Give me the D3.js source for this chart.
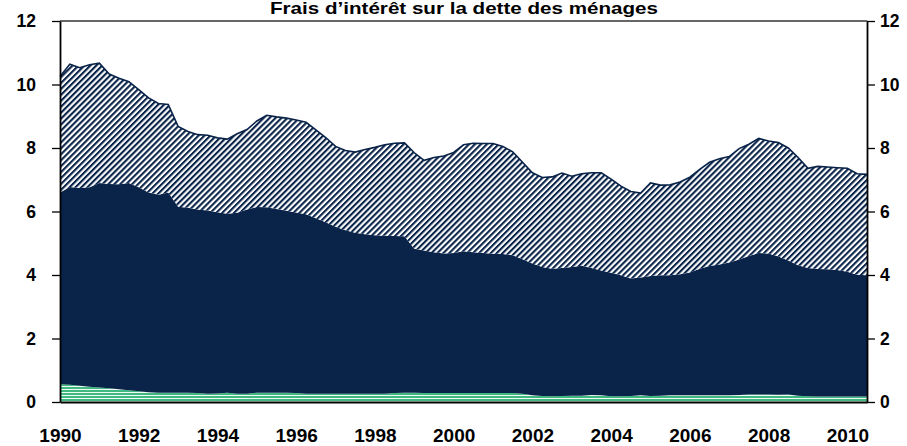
<!DOCTYPE html>
<html><head><meta charset="utf-8">
<script src="https://cdn.jsdelivr.net/npm/d3@7/dist/d3.min.js"></script>
<style>body{margin:0;background:#fff;overflow:hidden}</style>
</head><body>
<svg id="chart" width="907" height="446"></svg>
<script>
const title = "Frais d’intérêt sur la dette des ménages";

const categories = [
"1990T1","1990T2","1990T3","1990T4","1991T1","1991T2","1991T3","1991T4",
"1992T1","1992T2","1992T3","1992T4","1993T1","1993T2","1993T3","1993T4",
"1994T1","1994T2","1994T3","1994T4","1995T1","1995T2","1995T3","1995T4",
"1996T1","1996T2","1996T3","1996T4","1997T1","1997T2","1997T3","1997T4",
"1998T1","1998T2","1998T3","1998T4","1999T1","1999T2","1999T3","1999T4",
"2000T1","2000T2","2000T3","2000T4","2001T1","2001T2","2001T3","2001T4",
"2002T1","2002T2","2002T3","2002T4","2003T1","2003T2","2003T3","2003T4",
"2004T1","2004T2","2004T3","2004T4","2005T1","2005T2","2005T3","2005T4",
"2006T1","2006T2","2006T3","2006T4","2007T1","2007T2","2007T3","2007T4",
"2008T1","2008T2","2008T3","2008T4","2009T1","2009T2","2009T3","2009T4",
"2010T1","2010T2","2010T3"
];

// bottom layer (green, horizontal stripes)
const serieBas = [
0.56,0.54,0.51,0.48, 0.46,0.43,0.40,0.37, 0.34,0.31,0.29,0.29, 0.29,0.29,0.28,0.26,
0.27,0.29,0.26,0.26, 0.29,0.29,0.29,0.29, 0.28,0.26,0.26,0.26, 0.26,0.26,0.26,0.26,
0.26,0.26,0.28,0.29, 0.29,0.28,0.28,0.28, 0.28,0.28,0.28,0.28, 0.28,0.28,0.28,0.26,
0.21,0.19,0.18,0.19, 0.20,0.20,0.22,0.21, 0.18,0.18,0.19,0.21, 0.19,0.20,0.21,0.21,
0.21,0.21,0.21,0.21, 0.21,0.22,0.24,0.24, 0.24,0.23,0.24,0.20, 0.18,0.17,0.17,0.17,
0.17,0.17,0.17
];

// middle layer (solid navy)
const serieMilieu = [
6.04,6.23,6.23,6.28, 6.44,6.44,6.46,6.53, 6.42,6.29,6.24,6.31, 5.86,5.83,5.78,5.77,
5.71,5.64,5.70,5.80, 5.85,5.84,5.79,5.73, 5.69,5.65,5.53,5.40, 5.26,5.15,5.07,5.02,
4.99,4.98,4.95,4.93, 4.54,4.49,4.44,4.40, 4.41,4.47,4.44,4.41, 4.39,4.38,4.34,4.24,
4.15,4.06,4.02,4.03, 4.05,4.09,4.00,3.93, 3.89,3.81,3.70,3.71, 3.78,3.79,3.78,3.81,
3.87,3.99,4.07,4.12, 4.18,4.27,4.36,4.45, 4.44,4.35,4.22,4.11, 4.04,4.02,4.01,3.99,
3.93,3.84,3.82
];

// top layer (hatched)
const serieHaut = [
3.65,3.87,3.79,3.86, 3.77,3.46,3.34,3.19, 3.08,2.98,2.87,2.77, 2.53,2.40,2.36,2.37,
2.34,2.35,2.49,2.52, 2.71,2.90,2.90,2.92, 2.91,2.90,2.78,2.67, 2.53,2.51,2.54,2.67,
2.77,2.86,2.92,2.94, 3.02,2.84,2.98,3.07, 3.17,3.35,3.43,3.45, 3.47,3.39,3.26,3.05,
2.86,2.82,2.89,2.99, 2.86,2.90,3.00,3.08, 2.95,2.81,2.74,2.66, 2.93,2.84,2.85,2.91,
3.00,3.13,3.27,3.33, 3.34,3.49,3.52,3.61, 3.54,3.59,3.54,3.39, 3.14,3.23,3.22,3.22,
3.26,3.18,3.18
];

const xTickLabels = ["1990","1992","1994","1996","1998","2000","2002","2004","2006","2008","2010"];
const yTickValues = [0,2,4,6,8,10,12];

const NAVY = "#0a2349";
const mLeft = 60, mRight = 867, mTop = 21, mBottom = 402;

const svg = d3.select("#chart");
const defs = svg.append("defs");

const hatch = defs.append("pattern").attr("id","hatch")
  .attr("patternUnits","userSpaceOnUse").attr("width",4.2).attr("height",4.2)
  .attr("patternTransform","rotate(45)");
hatch.append("rect").attr("width",4.2).attr("height",4.2).attr("fill","#fff");
hatch.append("rect").attr("width",2.1).attr("height",4.2).attr("fill",NAVY);

const green = defs.append("pattern").attr("id","greenstripes")
  .attr("patternUnits","userSpaceOnUse").attr("width",8).attr("height",3);
green.append("rect").attr("width",8).attr("height",3).attr("fill","#3fb97f");
green.append("rect").attr("y",2).attr("width",8).attr("height",1).attr("fill","#eefaf3");

const rows = categories.map((c,i)=>({cat:c, bas:serieBas[i], milieu:serieMilieu[i], haut:serieHaut[i]}));
const keys = ["bas","milieu","haut"];
const stacked = d3.stack().keys(keys)(rows);

const x = d3.scaleLinear().domain([0, categories.length-1]).range([mLeft, mRight]);
const y = d3.scaleLinear().domain([0,12]).range([mBottom, mTop]);

const area = d3.area().x((d,i)=>x(i)).y0(d=>y(d[0])).y1(d=>y(d[1]));
const fills = {bas:"url(#greenstripes)", milieu:NAVY, haut:"url(#hatch)"};

svg.append("g").selectAll("path").data(stacked).join("path")
  .attr("d", area).attr("fill", d=>fills[d.key]);

// outline on top of hatched layer
svg.append("path").datum(stacked[2])
  .attr("d", d3.line().x((d,i)=>x(i)).y(d=>y(d[1])))
  .attr("fill","none").attr("stroke",NAVY).attr("stroke-width",1.6);

// top border
svg.append("line").attr("x1",mLeft).attr("x2",mRight).attr("y1",y(12)).attr("y2",y(12))
  .attr("stroke","#333").attr("stroke-width",1.5);

const fontFam = "Liberation Sans, Arial, sans-serif";

const yl = svg.append("g").attr("transform",`translate(${mLeft},0)`)
  .call(d3.axisLeft(y).tickValues(yTickValues).tickSize(8).tickSizeOuter(0).tickPadding(16).tickFormat(d3.format("d")));
const yr = svg.append("g").attr("transform",`translate(${mRight},0)`)
  .call(d3.axisRight(y).tickValues(yTickValues).tickSize(8).tickSizeOuter(0).tickPadding(5).tickFormat(d3.format("d")));
[yl,yr].forEach(g=>{
  g.select(".domain").attr("stroke","#000").attr("stroke-width",1.8);
  g.selectAll(".tick line").attr("stroke","#000").attr("stroke-width",1.3);
  g.selectAll("text").attr("font-family",fontFam).attr("font-weight","bold")
    .attr("font-size",17.5).attr("fill","#000");
});

const xa = svg.append("g").attr("transform",`translate(0,${mBottom})`)
  .call(d3.axisBottom(x).tickValues(xTickLabels.map(l=>categories.indexOf(l+"T1")))
    .tickSize(0).tickSizeOuter(0).tickPadding(27)
    .tickFormat(i=>categories[i].slice(0,4)));
xa.select(".domain").attr("stroke","#000").attr("stroke-width",1.8);
xa.selectAll("text").attr("font-family",fontFam).attr("font-weight","bold")
  .attr("font-size",19).attr("fill","#000");

svg.append("text").attr("x",464).attr("y",13.6).attr("text-anchor","middle")
  .attr("font-family",fontFam).attr("font-weight","bold").attr("font-size",16.5)
  .attr("textLength",388).attr("lengthAdjust","spacingAndGlyphs")
  .attr("fill","#000").text(title);
</script>
</body></html>
